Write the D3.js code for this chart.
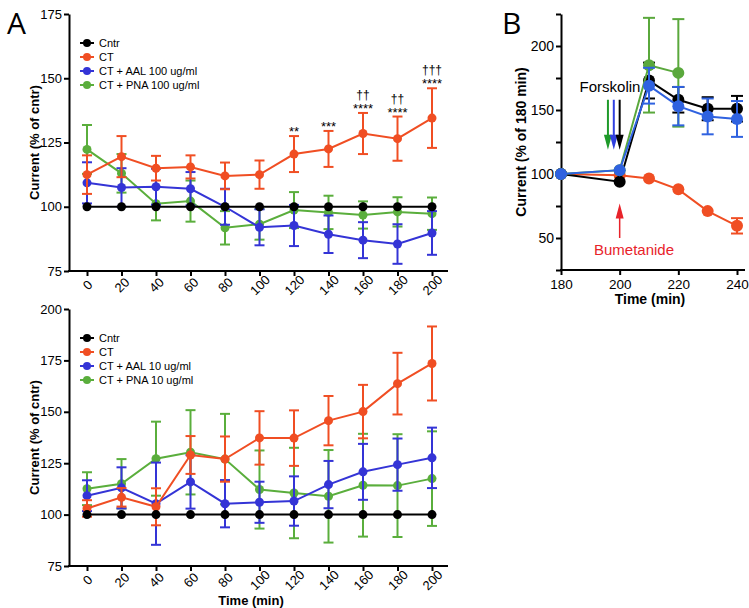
<!DOCTYPE html>
<html><head><meta charset="utf-8">
<script src="https://cdn.jsdelivr.net/npm/d3@7"></script>
<style>
body{margin:0;background:#fff;}
svg{display:block;font-family:"Liberation Sans",Arial,Helvetica,sans-serif;}
</style></head><body>
<svg id="chart" width="749" height="608"></svg>
<script>
// ---------- DATA ----------
const timesA = [0,20,40,60,80,100,120,140,160,180,200];
const topCntr = [100,100,100,100,100,100,100,100,100,100,100];
const topCT = [112.5,119.5,115,115.5,112,112.5,120.5,122.5,128.5,126.5,134.5];
const topCTerr = [7.5,8,4.8,4.5,5.2,5.5,7,7,8,8.6,11.6];
const topAAL = [109.3,107.5,107.8,107,100,92,92.7,89.3,87,85.5,89.8];
const topAALerr = [8,7.5,7,6.5,7,7,8,7.3,7,7.7,8.5];
const topPNA = [122.3,113,101.2,102.2,91.8,93.2,98.7,97.8,96.8,98,97.3];
const topPNAerr = [9.5,7.5,6.5,8,6.5,6,7,6.5,5.3,5.7,6.3];
const topStars = [null,null,null,null,null,null,"**","***","****","****","****"];
const topDaggers = [null,null,null,null,null,null,null,null,"††","††","†††"];

const botCntr = [100,100,100,100,100,100,100,100,100,100,100];
const botCT = [103,108.4,103.8,129,127,137.3,137.2,145.7,150.1,163.7,173.5];
const botCTerr = [4,4.5,9,9.2,11,13,13.5,12,13,15,18];
const botAAL = [109.2,113,105.3,115.9,105.3,106,106.6,114.6,120.8,124.3,127.6];
const botAALerr = [7.5,10,20,13,11.5,10,12,11.5,13.6,12.7,14.7];
const botPNA = [112.6,115,127.2,130.3,127,112.2,110.5,108.9,114.3,114.1,117.5];
const botPNAerr = [8,12,18,20.5,22,19,22,22.5,25,25,23];

const topLegend = ["Cntr","CT","CT + AAL 100 ug/ml","CT + PNA 100 ug/ml"];
const botLegend = ["Cntr","CT","CT + AAL 10 ug/ml","CT + PNA 10 ug/ml"];
const seriesColors = ["#000000","#f04e23","#3434d6","#5aae3c"];

const timesB = [180,200,210,220,230,240];
const bBlack = [100,94,173,158,151,151];
const bBlackErr = [0,0,14,10,9,10];
const bGreen = [100,103,185,179];
const bGreenErr = [0,0,37,42];
const bBlue = [100,103,169,153,145,143];
const bBlueErr = [0,0,14,15,14,14];
const bRed = [100,99,96.5,88,71,59.5];
const bRedErr = [0,0,0,0,0,6];
const bColors = {black:"#000000", green:"#5aa83c", blue:"#2f62e0", red:"#f04e23"};
const forskolinArrows = [{t:196,c:"#1f9a2a"},{t:198,c:"#2f3fe0"},{t:200,c:"#000000"}];

// ---------- DRAW ----------
const svg = d3.select("#chart");
const FONT = "Liberation Sans, Arial, sans-serif";

function styleAxis(g){
  g.selectAll("path,line").attr("stroke","#000").attr("stroke-width",2);
  g.selectAll("text").attr("font-size",13).attr("fill","#000").attr("font-family",FONT);
}

function drawSeries(g,x,y,times,vals,errs,color,r,cap,lw){
  const pts = vals.map((v,i)=>({t:times[i],v:v,e:errs?errs[i]:0}));
  const eg = g.append("g");
  pts.forEach(p=>{
    if(!p.e) return;
    const px=x(p.t);
    eg.append("line").attr("x1",px).attr("x2",px).attr("y1",y(p.v-p.e)).attr("y2",y(p.v+p.e)).attr("stroke",color).attr("stroke-width",lw);
    [p.v-p.e,p.v+p.e].forEach(v=>eg.append("line").attr("x1",px-cap/2).attr("x2",px+cap/2).attr("y1",y(v)).attr("y2",y(v)).attr("stroke",color).attr("stroke-width",lw));
  });
  g.append("path").datum(pts).attr("fill","none").attr("stroke",color).attr("stroke-width",lw)
    .attr("d",d3.line().x(d=>x(d.t)).y(d=>y(d.v)));
  g.selectAll(null).data(pts).enter().append("circle")
    .attr("cx",d=>x(d.t)).attr("cy",d=>y(d.v)).attr("r",r).attr("fill",color);
}

function panelA(yTop,yBot,domain,ticks,data,legend,yLabel,showXTitle,ann){
  const x = d3.scaleLinear().domain([0,200]).range([87,432]);
  const y = d3.scaleLinear().domain(domain).range([yBot,yTop]);
  const g = svg.append("g");
  const ya = g.append("g").attr("transform","translate(69,0)")
    .call(d3.axisLeft(y).tickValues(ticks).tickSize(5).tickSizeOuter(0));
  styleAxis(ya);
  ya.selectAll("text").attr("x",-7);
  const xa = g.append("g").attr("transform",`translate(0,${yBot})`)
    .call(d3.axisBottom(x).tickValues(timesA).tickSize(5).tickSizeOuter(0));
  styleAxis(xa);
  xa.select(".domain").attr("d",`M68,0H448`);
  xa.selectAll("text").attr("text-anchor","middle").attr("x",0).attr("y",0).attr("dy","0.35em")
    .attr("transform","translate(0,14) rotate(-45)");
  g.append("text").attr("transform",`translate(39,${(yTop+yBot)/2}) rotate(-90)`)
    .attr("text-anchor","middle").attr("font-size",13).attr("font-weight","bold").text(yLabel);
  if(showXTitle){
    g.append("text").attr("x",251).attr("y",605).attr("text-anchor","middle")
      .attr("font-size",13).attr("font-weight","bold").text("Time (min)");
  }
  [3,2,1,0].forEach(k=>{
    drawSeries(g,x,y,timesA,data[k].v,data[k].e,seriesColors[k],4.5,10,2);
  });
  const lg = g.append("g");
  legend.forEach((name,i)=>{
    const ly = yTop+29+i*14;
    lg.append("line").attr("x1",80).attr("x2",94).attr("y1",ly).attr("y2",ly).attr("stroke",seriesColors[i]).attr("stroke-width",2);
    lg.append("circle").attr("cx",87).attr("cy",ly).attr("r",4).attr("fill",seriesColors[i]);
    lg.append("text").attr("x",99).attr("y",ly+4).attr("font-size",11).text(name);
  });
  if(ann){
    ann.stars.forEach((s,i)=>{
      if(!s) return;
      const top = data[1].v[i]+data[1].e[i];
      g.append("text").attr("x",x(timesA[i])).attr("y",y(top)).attr("text-anchor","middle").attr("font-size",13).text(s);
    });
    ann.daggers.forEach((s,i)=>{
      if(!s) return;
      const top = data[1].v[i]+data[1].e[i];
      g.append("text").attr("x",x(timesA[i])).attr("y",y(top)-14).attr("text-anchor","middle").attr("font-size",12).text(s);
    });
  }
}

panelA(14,271,[75,175],[75,100,125,150,175],
  [{v:topCntr,e:null},{v:topCT,e:topCTerr},{v:topAAL,e:topAALerr},{v:topPNA,e:topPNAerr}],
  topLegend,"Current (% of cntr)",false,{stars:topStars,daggers:topDaggers});
panelA(309,566,[75,200],[75,100,125,150,175,200],
  [{v:botCntr,e:null},{v:botCT,e:botCTerr},{v:botAAL,e:botAALerr},{v:botPNA,e:botPNAerr}],
  botLegend,"Current (% of cntr)",true,null);

svg.append("text").attr("x",7).attr("y",34).attr("font-size",30).attr("font-family","Open Sans, sans-serif").text("A");
svg.append("text").attr("x",502).attr("y",34).attr("font-size",30).attr("font-family","Open Sans, sans-serif").text("B");

// Panel B
(function(){
  const x = d3.scaleLinear().domain([180,240]).range([561,737]);
  const y = d3.scaleLinear().domain([25,225]).range([270,14]);
  const g = svg.append("g");
  const ya = g.append("g").attr("transform","translate(561,0)")
    .call(d3.axisLeft(y).tickValues([25,50,75,100,125,150,175,200,225]).tickSize(5).tickSizeOuter(0)
      .tickFormat(d=>[50,100,150,200].includes(d)?d:""));
  styleAxis(ya);
  ya.selectAll("text").attr("x",-7).attr("font-size",14);
  const xa = g.append("g").attr("transform","translate(0,270)")
    .call(d3.axisBottom(x).tickValues([180,200,220,240]).tickSize(5).tickSizeOuter(0));
  styleAxis(xa);
  xa.select(".domain").attr("d","M560,0H745");
  xa.selectAll("text").attr("y",9).attr("font-size",13.5);
  g.append("text").attr("transform",`translate(526,142) rotate(-90)`).attr("text-anchor","middle")
    .attr("font-size",14).attr("font-weight","bold").text("Current (% of 180 min)");
  g.append("text").attr("x",650).attr("y",304).attr("text-anchor","middle")
    .attr("font-size",14).attr("font-weight","bold").text("Time (min)");
  drawSeries(g,x,y,timesB,bRed,bRedErr,bColors.red,6,12,2);
  drawSeries(g,x,y,timesB,bBlack,bBlackErr,bColors.black,6,12,2);
  drawSeries(g,x,y,timesB.slice(0,bGreen.length),bGreen,bGreenErr,bColors.green,6,12,2);
  drawSeries(g,x,y,timesB,bBlue,bBlueErr,bColors.blue,6,12,2);
  forskolinArrows.forEach(a=>{
    const ax = x(a.t);
    const tip = y(119);
    g.append("line").attr("x1",ax).attr("x2",ax).attr("y1",y(158)).attr("y2",tip-14).attr("stroke",a.c).attr("stroke-width",2);
    g.append("path").attr("d",`M${ax-4},${tip-15}L${ax+4},${tip-15}L${ax},${tip}Z`).attr("fill",a.c);
  });
  g.append("text").attr("x",610).attr("y",y(168)+5).attr("text-anchor","middle").attr("font-size",15).text("Forskolin");
  const rx = x(200);
  const rtip = y(77);
  g.append("line").attr("x1",rx).attr("x2",rx).attr("y1",y(50)).attr("y2",rtip+14).attr("stroke","#e8232a").attr("stroke-width",1.5);
  g.append("path").attr("d",`M${rx-4},${rtip+15}L${rx+4},${rtip+15}L${rx},${rtip}Z`).attr("fill","#e8232a");
  g.append("text").attr("x",634).attr("y",255).attr("text-anchor","middle").attr("font-size",15).attr("fill","#e8232a").text("Bumetanide");
})();
</script>
</body></html>
